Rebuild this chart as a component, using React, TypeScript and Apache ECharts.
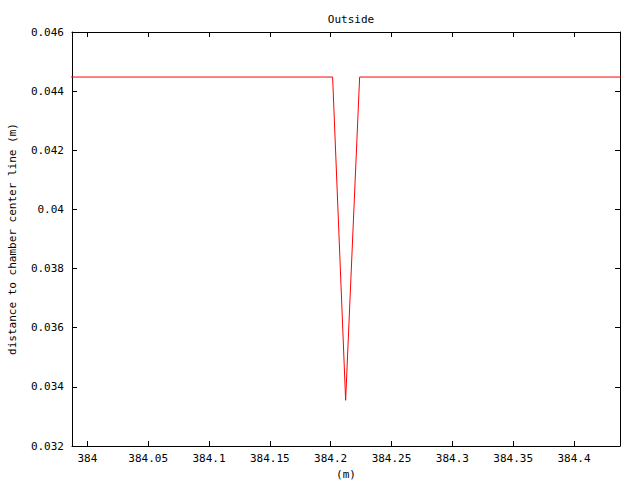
import React, { useEffect, useRef } from "react";
import * as echarts from "echarts";

const positions = [383.98, 384.2016, 384.2123, 384.2238, 384.45];
const distances = [0.044477, 0.044477, 0.033546, 0.044477, 0.044477];

const X_MIN = 383.9874;
const X_MAX = 384.4378;
const Y_MIN = 0.032;
const Y_MAX = 0.046;

const FONT = "DejaVu Sans Mono";

export default function App() {
  const ref = useRef<HTMLDivElement>(null);
  useEffect(() => {
    if (!ref.current) return;
    const chart = echarts.init(ref.current, undefined, { renderer: "svg" });
    const baseX = {
      type: "value" as const,
      min: X_MIN,
      max: X_MAX,
      splitNumber: 9,
      minInterval: 0.05,
      maxInterval: 0.05,
      axisLine: { show: true, lineStyle: { color: "#000", width: 1 } },
      axisTick: { show: true, inside: true, length: 5, lineStyle: { color: "#000" } },
      splitLine: { show: false },
    };
    const baseY = {
      type: "value" as const,
      min: Y_MIN,
      max: Y_MAX,
      interval: 0.002,
      axisLine: { show: true, lineStyle: { color: "#000", width: 1 } },
      axisTick: { show: true, inside: true, length: 5, lineStyle: { color: "#000" } },
      splitLine: { show: false },
    };
    chart.setOption({
      animation: false,
      backgroundColor: "#fff",
      title: {
        text: "Outside",
        left: 346,
        textAlign: "center",
        top: 9,
        textStyle: { fontFamily: FONT, fontSize: 11, fontWeight: "normal", color: "#000" },
      },
      grid: { left: 72, right: 20, top: 32, bottom: 34, containLabel: false, outerBoundsMode: "none" },
      xAxis: [
        {
          ...baseX,
          position: "bottom",
          name: "(m)",
          nameLocation: "middle",
          nameGap: 22,
          nameTextStyle: { fontFamily: FONT, fontSize: 11, color: "#000" },
          axisLabel: {
            show: true,
            fontFamily: FONT,
            fontSize: 11,
            color: "#000",
            margin: 7,
            showMinLabel: false,
            showMaxLabel: false,
          },
        },
        {
          ...baseX,
          position: "top",
          axisLabel: { show: false },
        },
      ],
      yAxis: [
        {
          ...baseY,
          position: "left",
          name: "distance to chamber center line (m)",
          nameLocation: "middle",
          nameGap: 54,
          nameTextStyle: { fontFamily: FONT, fontSize: 11, color: "#000" },
          axisLabel: { show: true, fontFamily: FONT, fontSize: 11, color: "#000", margin: 8 },
        },
        {
          ...baseY,
          position: "right",
          axisLabel: { show: false },
        },
      ],
      series: [
        {
          type: "line",
          xAxisIndex: 0,
          yAxisIndex: 0,
          data: positions.map((x, i) => [x, distances[i]]),
          showSymbol: false,
          symbol: "none",
          clip: true,
          lineStyle: { color: "#ff0000", width: 1 },
        },
      ],
    });
    return () => chart.dispose();
  }, []);
  return <div ref={ref} style={{ width: 640, height: 480, position: "absolute", left: 0, top: 0 }} />;
}
